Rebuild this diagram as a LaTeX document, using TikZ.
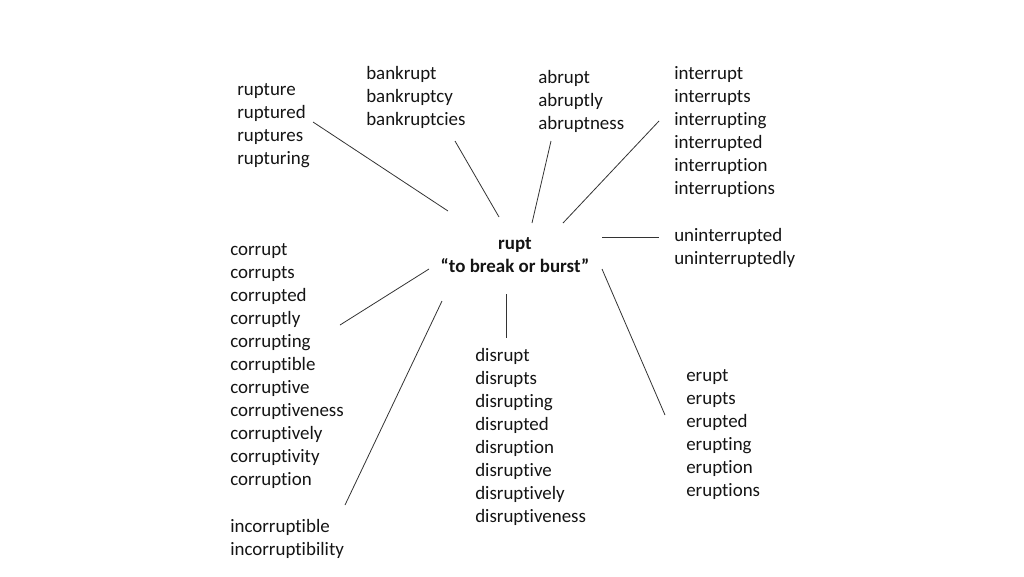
\documentclass[tikz,border=0pt]{standalone}
\usepackage{fontspec}
\setmainfont[Ligatures=NoCommon]{Carlito}
\usepackage{xcolor}
\usepackage{tikz}
\usetikzlibrary{positioning, calc}
\definecolor{inkgray}{RGB}{20, 20, 20}
\tikzstyle{words} = [anchor=base west, align=left, inner sep=0pt, text=inkgray, font=\fontsize{14.2pt}{17.25pt}\selectfont]
\tikzstyle{root} = [anchor=base, align=center, inner sep=0pt, text=inkgray, font=\fontsize{14.2pt}{17.25pt}\selectfont\bfseries]
\tikzstyle{spoke} = [line width=0.6pt, draw=black!80]

\begin{document}
\begin{tikzpicture}[x=0.75pt, y=-0.75pt]
    \useasboundingbox (0, 0) rectangle (1024, 576);

    % Root (placed at the baseline of its last line)
    \node[root] (rupt) at (515, 272) {rupt\\``to break or burst''};

    % Word families (placed at the baseline of their last line)
    \node[words] (rupture) at (237, 164) {rupture\\ruptured\\ruptures\\rupturing};
    \node[words] (bankrupt) at (366, 125) {bankrupt\\bankruptcy\\bankruptcies};
    \node[words] (abrupt) at (538, 129) {abrupt\\abruptly\\abruptness};
    \node[words] (interrupt) at (674, 194) {interrupt\\interrupts\\interrupting\\interrupted\\interruption\\interruptions};
    \node[words] (uninterrupted) at (674, 264) {uninterrupted\\uninterruptedly};
    \node[words] (corrupt) at (230, 485) {corrupt\\corrupts\\corrupted\\corruptly\\corrupting\\corruptible\\corruptive\\corruptiveness\\corruptively\\corruptivity\\corruption};
    \node[words] (incorruptible) at (230, 555) {incorruptible\\incorruptibility};
    \node[words] (disrupt) at (475, 522) {disrupt\\disrupts\\disrupting\\disrupted\\disruption\\disruptive\\disruptively\\disruptiveness};
    \node[words] (erupt) at (686, 496) {erupt\\erupts\\erupted\\erupting\\eruption\\eruptions};

    % Spoke ends
    \coordinate (r-rupture) at (448, 211);
    \coordinate (w-rupture) at (313, 122);
    \coordinate (r-bankrupt) at (499, 217);
    \coordinate (w-bankrupt) at (455, 141);
    \coordinate (r-abrupt) at (532, 223);
    \coordinate (w-abrupt) at (551, 141);
    \coordinate (r-interrupt) at (563, 223);
    \coordinate (w-interrupt) at (659, 121);
    \coordinate (r-uninterrupted) at (602, 237);
    \coordinate (w-uninterrupted) at (659, 237);
    \coordinate (r-corrupt) at (429, 269);
    \coordinate (w-corrupt) at (340, 325);
    \coordinate (r-incorruptible) at (442, 301);
    \coordinate (w-incorruptible) at (345, 505);
    \coordinate (r-disrupt) at (506, 294);
    \coordinate (w-disrupt) at (506, 338);
    \coordinate (r-erupt) at (602, 269);
    \coordinate (w-erupt) at (665, 415);

    % Spokes
    \foreach \w in {rupture, bankrupt, abrupt, interrupt, uninterrupted, corrupt, incorruptible, disrupt, erupt}
        \draw[spoke] (r-\w) -- (w-\w);
\end{tikzpicture}
\end{document}
